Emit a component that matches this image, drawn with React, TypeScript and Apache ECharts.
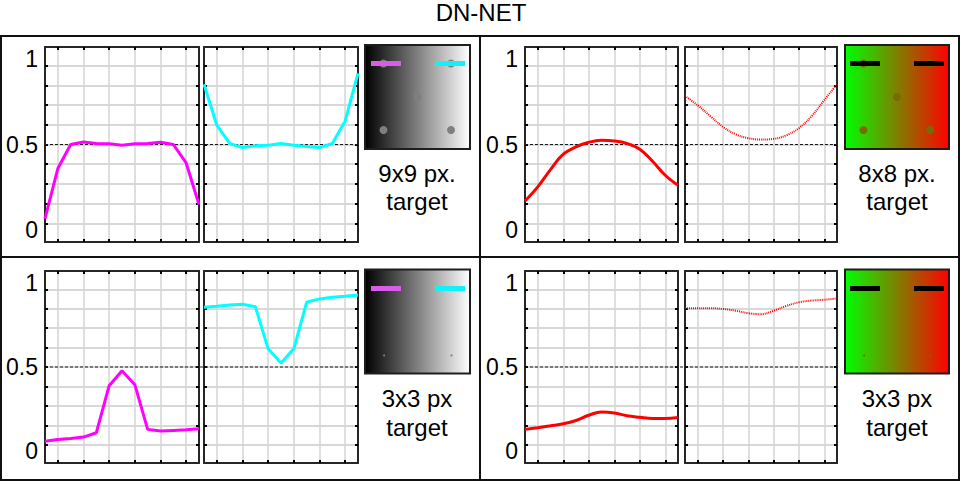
import React, { useEffect, useRef } from 'react';
import * as echarts from 'echarts';

// ---------------- data ----------------
const xPositions = [0, 1, 2, 3, 4, 5, 6, 7, 8, 9, 10, 11, 12];
const xGridTicks = [1, 3, 5, 7, 9, 11];
const yGridTicks = [0.038, 0.1535, 0.269, 0.3845, 0.5, 0.6155, 0.731, 0.8465, 0.962];
const yTickLabels = [0, 0.5, 1];
const refLevel = 0.5;
const yMin = -0.071;
const yMax = 1.071;

const topLeftMagenta = [0.066, 0.359, 0.5, 0.515, 0.506, 0.504, 0.496, 0.504, 0.506, 0.513, 0.5, 0.392, 0.148];
const topLeftCyan = [0.853, 0.613, 0.506, 0.482, 0.492, 0.496, 0.506, 0.496, 0.488, 0.482, 0.506, 0.638, 0.916];
const topRightSolid = [0.169, 0.252, 0.353, 0.443, 0.486, 0.513, 0.525, 0.521, 0.506, 0.472, 0.402, 0.32, 0.261];
const topRightDotted = [0.785, 0.73, 0.666, 0.603, 0.56, 0.537, 0.529, 0.533, 0.554, 0.596, 0.666, 0.76, 0.853];
const bottomLeftMagenta = [0.059, 0.069, 0.075, 0.083, 0.109, 0.389, 0.478, 0.395, 0.129, 0.119, 0.123, 0.127, 0.133];
const bottomLeftCyan = [0.855, 0.861, 0.869, 0.873, 0.859, 0.608, 0.524, 0.608, 0.885, 0.905, 0.915, 0.921, 0.928];
const bottomRightSolid = [0.129, 0.139, 0.15, 0.162, 0.182, 0.213, 0.233, 0.227, 0.21, 0.201, 0.194, 0.194, 0.2];
const bottomRightDotted = [0.85, 0.85, 0.85, 0.845, 0.835, 0.82, 0.814, 0.835, 0.863, 0.885, 0.895, 0.9, 0.908];

const titleText = 'DN-NET';
const panelCaptions = [
  ['9x9 px.', 'target'],
  ['8x8 px.', 'target'],
  ['3x3 px', 'target'],
  ['3x3 px', 'target'],
];

// ---------------- layout / style ----------------
const FONT = "'Liberation Sans', Arial, Helvetica, sans-serif";
const ROWS = [
  { top: 47, height: 195, img: 45, t1: 173, t2: 201.5 },
  { top: 271, height: 192, img: 269.5, t1: 398, t2: 427 },
];
const COLS = [
  { aLeft: 45, aWidth: 154, bLeft: 204, bWidth: 154, imgX: 365, imgW: 105, textX: 417 },
  { aLeft: 525, aWidth: 153, bLeft: 685, bWidth: 152, imgX: 845, imgW: 104, textX: 897 },
];

type Curve = { data: number[]; color: string; dotted: boolean; smooth: boolean };
const panels: { row: number; col: number; a: Curve; b: Curve; kind: 'gray' | 'color'; big: boolean }[] = [
  {
    row: 0, col: 0, kind: 'gray', big: true,
    a: { data: topLeftMagenta, color: '#ff00ff', dotted: false, smooth: false },
    b: { data: topLeftCyan, color: '#00ffff', dotted: false, smooth: false },
  },
  {
    row: 0, col: 1, kind: 'color', big: true,
    a: { data: topRightSolid, color: '#ff0000', dotted: false, smooth: true },
    b: { data: topRightDotted, color: '#ff0000', dotted: true, smooth: true },
  },
  {
    row: 1, col: 0, kind: 'gray', big: false,
    a: { data: bottomLeftMagenta, color: '#ff00ff', dotted: false, smooth: false },
    b: { data: bottomLeftCyan, color: '#00ffff', dotted: false, smooth: false },
  },
  {
    row: 1, col: 1, kind: 'color', big: false,
    a: { data: bottomRightSolid, color: '#ff0000', dotted: false, smooth: true },
    b: { data: bottomRightDotted, color: '#ff0000', dotted: true, smooth: true },
  },
];

const BORDER = '#262626';

function buildOption() {
  const grid: any[] = [];
  const xAxis: any[] = [];
  const yAxis: any[] = [];
  const series: any[] = [];

  const addPlot = (left: number, top: number, width: number, height: number, curve: Curve, labels: boolean) => {
    const gi = grid.length;
    grid.push({ left, top, width, height, containLabel: false });
    const xb = xAxis.length;
    const tickX = { show: true, inside: true, length: 3, customValues: xGridTicks, lineStyle: { color: '#000', width: 2 } };
    const tickY = { show: true, inside: true, length: 3, customValues: yGridTicks, lineStyle: { color: '#000', width: 2 } };
    const line = { show: true, onZero: false, lineStyle: { color: BORDER, width: 2 } };
    xAxis.push({
      type: 'value', gridIndex: gi, min: 0, max: 12, position: 'bottom',
      axisLine: line, axisTick: tickX, axisLabel: { show: false },
      splitLine: { show: true, lineStyle: { color: '#d4d4d4', width: 1.5 } },
    });
    xAxis.push({
      type: 'value', gridIndex: gi, min: 0, max: 12, position: 'top',
      axisLine: line, axisTick: tickX, axisLabel: { show: false }, splitLine: { show: false },
    });
    const yl = yAxis.length;
    yAxis.push({
      type: 'value', gridIndex: gi, min: yMin, max: yMax, position: 'left',
      axisLine: line, axisTick: tickY,
      axisLabel: labels
        ? { show: true, customValues: yTickLabels, color: '#000', fontSize: 23, fontFamily: FONT, margin: 7 }
        : { show: false },
      splitLine: { show: true, lineStyle: { color: '#d8d8d8', width: 2 } },
    });
    yAxis.push({
      type: 'value', gridIndex: gi, min: yMin, max: yMax, position: 'right',
      axisLine: line, axisTick: tickY, axisLabel: { show: false }, splitLine: { show: false },
    });
    series.push({
      type: 'line', xAxisIndex: xb, yAxisIndex: yl, z: 4,
      data: xPositions.map((x, i) => [x, curve.data[i]]),
      showSymbol: false, symbol: 'none', smooth: curve.smooth ? 0.4 : false,
      lineStyle: curve.dotted
        ? { color: curve.color, width: 2, type: [1, 1] }
        : { color: curve.color, width: 3 },
      clip: true,
    });
  };

  panels.forEach((p) => {
    const r = ROWS[p.row];
    const c = COLS[p.col];
    addPlot(c.aLeft, r.top, c.aWidth, r.height, p.a, true);
    addPlot(c.bLeft, r.top, c.bWidth, r.height, p.b, false);
    // reference line grid spanning both plots
    const gi = grid.length;
    grid.push({ left: c.aLeft, top: r.top, width: c.bLeft + c.bWidth - c.aLeft, height: r.height });
    const xi = xAxis.length;
    xAxis.push({ type: 'value', gridIndex: gi, min: 0, max: 1, show: false });
    const yi = yAxis.length;
    yAxis.push({ type: 'value', gridIndex: gi, min: yMin, max: yMax, show: false });
    series.push({
      type: 'line', xAxisIndex: xi, yAxisIndex: yi, z: 3,
      data: [[0, refLevel], [1, refLevel]],
      showSymbol: false, symbol: 'none',
      lineStyle: { color: '#1a1a1a', width: 1.2, type: [3, 2] },
    });
  });

  // graphics
  const graphic: any[] = [];
  graphic.push({
    type: 'text', left: 'center', top: 0,
    style: { text: titleText, fill: '#000', font: `24px ${FONT}` },
  });
  // frame
  graphic.push({ type: 'rect', shape: { x: 1, y: 36, width: 958, height: 444 }, style: { fill: 'none', stroke: '#111', lineWidth: 2 }, z: 10 });
  graphic.push({ type: 'line', shape: { x1: 480, y1: 36, x2: 480, y2: 480 }, style: { stroke: '#111', lineWidth: 2 }, z: 10 });
  graphic.push({ type: 'line', shape: { x1: 1, y1: 257, x2: 959, y2: 257 }, style: { stroke: '#111', lineWidth: 2 }, z: 10 });

  panels.forEach((p, pi) => {
    const r = ROWS[p.row];
    const c = COLS[p.col];
    const x = c.imgX;
    const y = r.img;
    const w = c.imgW;
    const h = 104;
    const gradient = new echarts.graphic.LinearGradient(0, 0, 1, 0,
      p.kind === 'gray'
        ? [{ offset: 0, color: '#000000' }, { offset: 1, color: '#ffffff' }]
        : [{ offset: 0, color: '#00ff00' }, { offset: 1, color: '#ff0000' }]);
    const dotColor = p.kind === 'gray' ? '#7f7f7f' : '#7a6a06';
    const dotR = p.big ? 4 : 1;
    const children: any[] = [];
    children.push({ type: 'rect', shape: { x: 0, y: 0, width: w, height: h }, style: { fill: gradient } });
    const dots = p.big
      ? [[18.5, 18.5], [w - 19, 18.5], [w / 2, 52], [18.5, 85], [w - 19, 85]]
      : [[19, 86], [w - 18.5, 86]];
    dots.forEach(([dx, dy]) => {
      children.push({ type: 'circle', shape: { cx: dx, cy: dy, r: dotR }, style: { fill: dotColor } });
    });
    const barY = p.row === 0 ? 16 : 16.5;
    const barL = p.kind === 'gray' ? '#d95de9' : '#000000';
    const barR = p.kind === 'gray' ? '#12f0f8' : '#000000';
    const bl = p.kind === 'gray' ? 6 : 5;
    children.push({ type: 'rect', shape: { x: bl, y: barY, width: 30, height: 5 }, style: { fill: barL } });
    children.push({ type: 'rect', shape: { x: w - 35, y: barY, width: 30, height: 5 }, style: { fill: barR } });
    children.push({ type: 'rect', shape: { x: 0, y: 0, width: w, height: h }, style: { fill: 'none', stroke: '#1e1e1e', lineWidth: 2 } });
    graphic.push({ type: 'group', x, y, children, z: 5 });

    const cap = panelCaptions[pi];
    graphic.push({
      type: 'text', x: c.textX, y: r.t1,
      style: { text: cap[0], fill: '#000', font: `24px ${FONT}`, textAlign: 'center', textVerticalAlign: 'middle' },
    });
    graphic.push({
      type: 'text', x: c.textX, y: r.t2,
      style: { text: cap[1], fill: '#000', font: `24px ${FONT}`, textAlign: 'center', textVerticalAlign: 'middle' },
    });
  });

  return {
    animation: false,
    backgroundColor: '#ffffff',
    textStyle: { fontFamily: FONT },
    grid, xAxis, yAxis, series, graphic,
  };
}

export default function App() {
  const ref = useRef<HTMLDivElement>(null);
  useEffect(() => {
    if (!ref.current) return;
    const chart = echarts.init(ref.current, null, { renderer: 'svg' });
    chart.setOption(buildOption() as any);
    return () => chart.dispose();
  }, []);
  return (
    <div
      ref={ref}
      style={{ position: 'fixed', left: 0, top: 0, width: 962, height: 482, background: '#fff' }}
    />
  );
}
